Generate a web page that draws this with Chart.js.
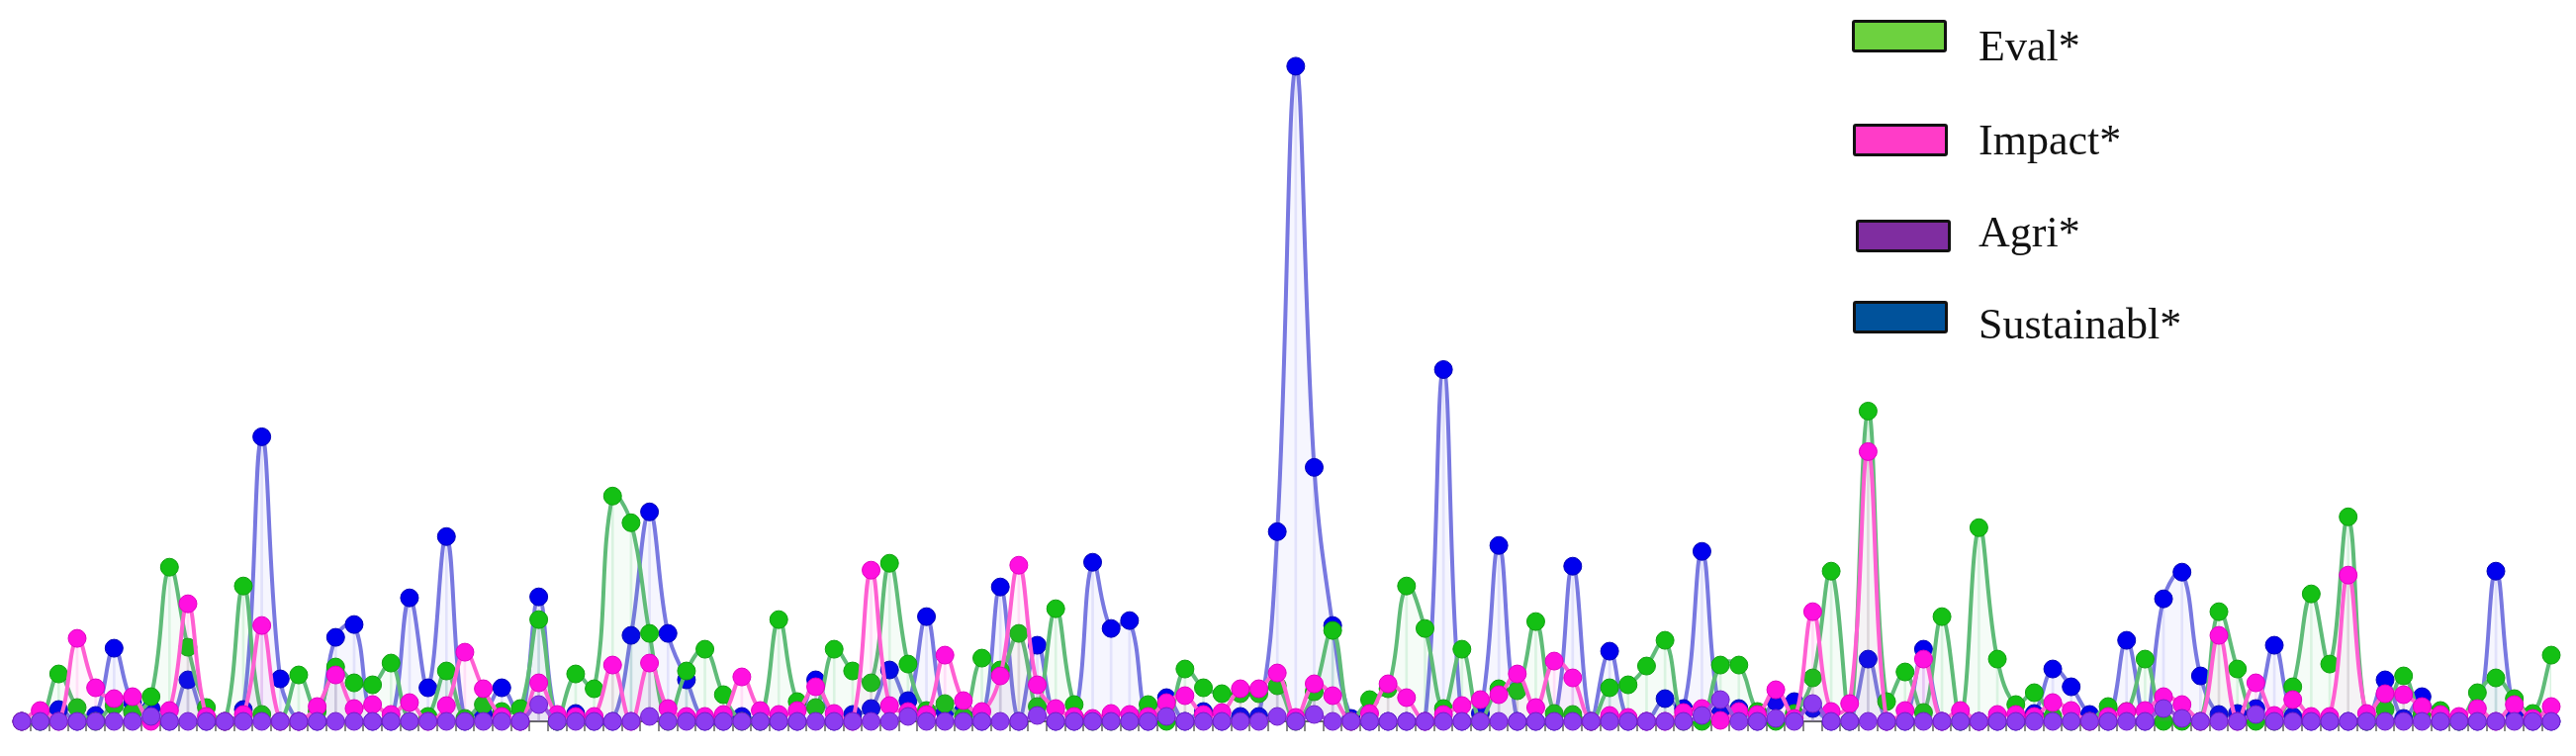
<!DOCTYPE html>
<html>
<head>
<meta charset="utf-8">
<script src="https://cdn.jsdelivr.net/npm/chart.js@4.4.1/dist/chart.umd.min.js"></script>
<style>
  body { margin: 0; background: #fff; }
  #wrap { position: relative; width: 2604px; height: 764px; }
  .key { position: absolute; width: 90px; height: 27px; border: 3px solid #111; border-radius: 3px; }
  .lbl { position: absolute; left: 2000px; font-family: "Liberation Serif", serif; font-size: 44px; line-height: 44px; color: #111; white-space: nowrap; }
</style>
</head>
<body>
<div id="wrap">
  <canvas id="chart" width="2604" height="764"></canvas>
  <div class="key" style="left:1872px;top:20px;background:#6dd13f"></div>
  <div class="lbl" style="top:25px">Eval*</div>
  <div class="key" style="left:1873px;top:125px;background:#ff3cc8"></div>
  <div class="lbl" style="top:120px">Impact*</div>
  <div class="key" style="left:1876px;top:222px;background:#7f2da0"></div>
  <div class="lbl" style="top:213px">Agri*</div>
  <div class="key" style="left:1873px;top:304px;background:#00529b"></div>
  <div class="lbl" style="top:306px">Sustainabl*</div>
</div>
<script>
// values, one entry per position on the x axis
const evalData = [
  0, 0, 4.8, 1.4, 0, 1.6, 0.9, 2.5, 15.6, 7.5,
  1.4, 0, 13.7, 0.7, 0, 4.7, 1.0, 5.5, 3.9, 3.7,
  5.9, 0, 0.5, 5.1, 0.3, 1.7, 1.0, 1.3, 10.3, 0,
  4.8, 3.3, 22.8, 20.1, 8.9, 0, 5.1, 7.3, 2.7, 0,
  0, 10.3, 2.0, 1.4, 7.3, 5.1, 3.9, 16.0, 5.8, 1.1,
  1.8, 0.5, 6.4, 5.2, 8.9, 1.5, 11.4, 1.7, 0, 0,
  0, 1.7, 0, 5.3, 3.4, 2.8, 2.8, 2.8, 3.6, 0,
  3.0, 9.2, 0, 2.2, 3.3, 13.7, 9.4, 1.3, 7.3, 0,
  3.3, 3.1, 10.1, 0.8, 0.7, 0, 3.4, 3.7, 5.6, 8.2,
  0, 0, 5.7, 5.7, 1.0, 0, 0.8, 4.4, 15.2, 0,
  31.4, 2.0, 5.0, 0.9, 10.6, 0, 19.6, 6.3, 1.7, 2.9,
  0.5, 0, 0, 1.5, 1.0, 6.3, 0, 0, 0, 11.1,
  5.3, 0, 0, 3.5, 12.9, 5.8, 20.7, 0, 1.2, 4.6,
  0.7, 1.1, 0, 2.9, 4.4, 2.3, 0.8, 6.7
];

const impactData = [
  0, 1.1, 0, 8.4, 3.4, 2.3, 2.5, 0, 1.1, 11.9,
  0.5, 0, 0.7, 9.7, 0, 0, 1.5, 4.7, 1.3, 1.7,
  0.7, 1.9, 0, 1.6, 7.0, 3.3, 0.5, 0, 3.9, 0.7,
  0.5, 0.5, 5.7, 0, 5.9, 1.3, 0.5, 0.5, 0.7, 4.5,
  1.1, 0.7, 1.1, 3.5, 0.8, 0, 15.3, 1.6, 1.0, 0.7,
  6.7, 2.1, 1.0, 4.6, 15.8, 3.7, 1.3, 0.5, 0.3, 0.8,
  0.7, 0.5, 1.9, 2.6, 0.7, 0.9, 3.3, 3.3, 4.9, 0.4,
  3.8, 2.6, 0, 0.8, 3.8, 2.4, 0, 0.7, 1.6, 2.2,
  2.7, 4.8, 1.4, 6.1, 4.4, 0, 0.6, 0.4, 0, 0,
  0.9, 1.3, 0.1, 1.0, 0.7, 3.2, 0.3, 11.1, 1.0, 1.8,
  27.3, 0, 1.1, 6.3, 0, 1.1, 0, 0.7, 0.7, 0.5,
  1.9, 1.1, 0, 0.5, 1.0, 1.1, 2.5, 1.7, 0, 8.7,
  0, 3.9, 0.6, 2.2, 0.5, 0.5, 14.8, 0.8, 2.8, 2.7,
  1.5, 0.7, 0.5, 1.3, 0, 1.7, 0.3, 1.5
];

const agriData = [
  0, 0, 0, 0, 0, 0, 0, 0.5, 0, 0,
  0, 0, 0, 0, 0, 0, 0, 0, 0, 0,
  0, 0, 0, 0, 0, 0, 0, 0, 1.7, 0,
  0, 0, 0, 0, 0.5, 0, 0, 0, 0, 0,
  0, 0, 0, 0, 0, 0, 0, 0, 0.5, 0,
  0, 0, 0, 0, 0, 0.6, 0, 0, 0, 0,
  0, 0, 0.5, 0, 0, 0, 0, 0, 0.5, 0,
  0.7, 0, 0, 0, 0, 0, 0, 0, 0, 0,
  0, 0, 0, 0, 0, 0, 0, 0, 0, 0,
  0, 0.6, 2.2, 0, 0, 0.3, 0, 1.8, 0, 0,
  0, 0, 0, 0, 0, 0, 0, 0, 0, 0,
  0, 0, 0, 0, 0, 0, 1.3, 0.3, 0, 0,
  0, 0.7, 0, 0, 0, 0, 0, 0, 0, 0,
  0, 0, 0, 0, 0, 0, 0, 0
];

const sustainData = [
  0, 0, 1.2, 0, 0.6, 7.4, 1.9, 1.3, 0, 4.2,
  0, 0, 1.2, 28.8, 4.3, 0, 0, 8.5, 9.8, 0,
  0, 12.5, 3.4, 18.7, 0, 0.7, 3.4, 0, 12.6, 0,
  0.8, 0, 0, 8.7, 21.2, 8.9, 4.2, 0, 0, 0.5,
  0, 0, 0, 4.2, 0, 0.7, 1.3, 5.2, 2.1, 10.6,
  1.0, 1.1, 0, 13.6, 0, 7.7, 0, 0, 16.1, 9.4,
  10.2, 0, 2.4, 0, 1.0, 0, 0.5, 0.5, 19.2, 66.3,
  25.7, 9.7, 0.3, 0, 0, 0, 0, 35.6, 0, 0.8,
  17.8, 0, 0, 0, 15.7, 0, 7.1, 0, 0, 2.3,
  1.3, 17.2, 0.8, 1.3, 0, 2.0, 2.0, 1.3, 0, 0,
  6.3, 0, 0, 7.3, 0, 0, 0, 0, 0, 0.8,
  5.3, 3.5, 0.7, 0, 8.2, 0, 12.4, 15.1, 4.6, 0.7,
  0.8, 1.3, 7.7, 0.5, 0, 0, 0, 0, 4.2, 0.3,
  2.5, 0, 0, 0, 15.2, 0.8, 0, 0
];

const labels = evalData.map((_, i) => String(i + 1));

function lineSet(label, data, line, point, edge, fillColor, order) {
  return {
    type: 'line',
    label: label,
    data: data,
    borderColor: line,
    borderWidth: 4,
    backgroundColor: fillColor,
    fill: 'origin',
    tension: 0.4,
    pointRadius: 9,
    pointBackgroundColor: point,
    pointBorderColor: edge,
    pointBorderWidth: 1,
    clip: false,
    order: order,
  };
}

// faint drop lines from each point down to the axis
function dropSet(data, color) {
  return {
    type: 'bar',
    data: data,
    backgroundColor: color,
    barThickness: 2,
    grouped: false,
    order: 10,
  };
}

new Chart(document.getElementById('chart'), {
  type: 'line',
  data: {
    labels: labels,
    datasets: [
      lineSet('Agri*', agriData, '#9a55dd', '#8c3cf0', '#7020c8', 'rgba(140,60,240,0.04)', 0),
      lineSet('Impact*', impactData, '#ff5fd2', '#ff10e0', '#e000c0', 'rgba(255,80,210,0.05)', 1),
      lineSet('Eval*', evalData, '#5fbb78', '#14c014', '#10a010', 'rgba(60,190,90,0.05)', 2),
      lineSet('Sustainabl*', sustainData, '#7878e0', '#0000ee', '#0000b8', 'rgba(110,110,230,0.06)', 3),
      dropSet(evalData, 'rgba(60,190,90,0.14)'),
      dropSet(impactData, 'rgba(255,80,210,0.14)'),
      dropSet(sustainData, 'rgba(100,100,230,0.14)'),
    ],
  },
  options: {
    responsive: false,
    animation: false,
    layout: { padding: { left: 22, right: 25, top: 9, bottom: 25 } },
    plugins: {
      legend: { display: false },
      tooltip: { enabled: false },
    },
    scales: {
      x: {
        offset: false,
        border: { display: true, color: '#666', width: 2 },
        grid: { drawOnChartArea: false, drawTicks: true, tickLength: 10, color: '#888', lineWidth: 2 },
        ticks: { display: false, autoSkip: false },
      },
      y: {
        display: false,
        min: 0,
        max: 72,
      },
    },
  },
});
</script>
</body>
</html>
